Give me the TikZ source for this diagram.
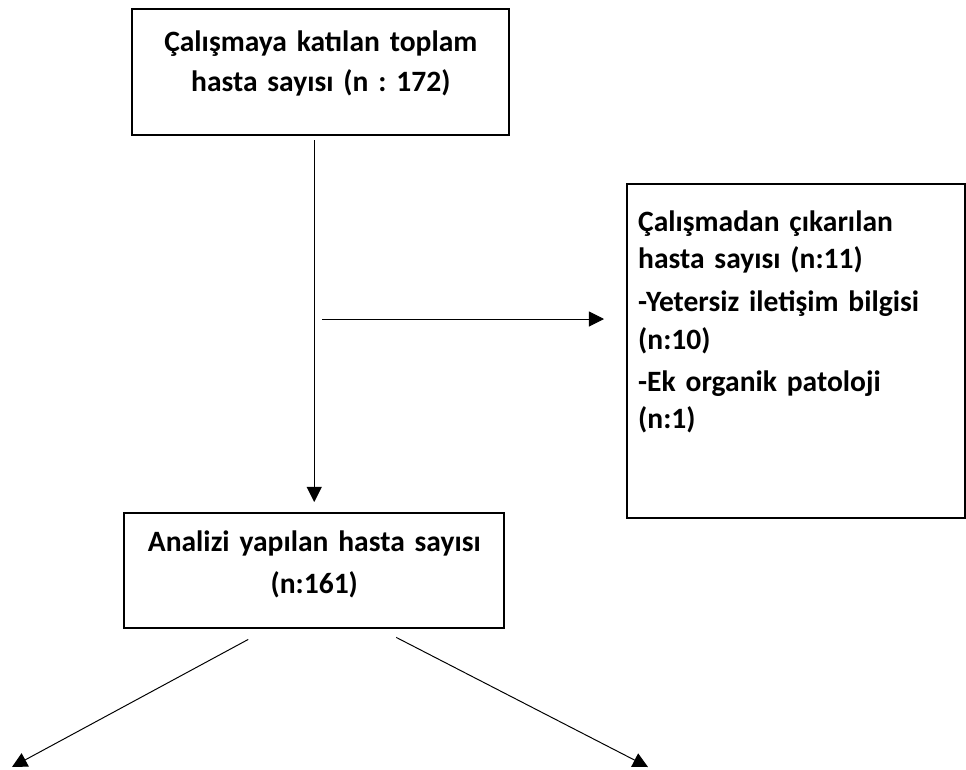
\documentclass[tikz,border=0pt]{standalone}
\usepackage{fontspec}
\setmainfont{Carlito}
\frenchspacing
\usetikzlibrary{arrows.meta}
\tikzset{
  stepbox/.style={
    draw=black,
    line width=1.7pt,
    inner sep=0pt,
    font=\bfseries\fontsize{21}{26.7}\selectfont
  },
  flow/.style={
    -{Triangle[length=10.7pt,width=10.7pt]},
    line width=0.7pt,
    draw=black
  }
}
\begin{document}
\begin{tikzpicture}[x=0.025cm, y=-0.025cm]
  \useasboundingbox (0,0) rectangle (966,769);
  \node[stepbox, anchor=north west, text width=9.425cm, align=center,
        text height=1.05cm, text depth=2.1cm] (total) at (131,8)
        {Çalışmaya katılan toplam\\[0.0625cm]hasta sayısı (n : 172)};
  \node[stepbox, anchor=north west, text width=9.5cm, align=center,
        text height=0.95cm, text depth=1.925cm] (analyzed) at (123,512)
        {Analizi yapılan hasta sayısı\\[0.1125cm](n:161)};
  \node[stepbox, anchor=north west, text width=7.9cm, inner xsep=0.275cm, align=left,
        text height=1.175cm, text depth=7.175cm] (excluded) at (626,183)
        {Çalışmadan çıkarılan\\hasta sayısı (n:11)\\[0.14cm]-Yetersiz iletişim bilgisi\\(n:10)\\[0.11cm]-Ek organik patoloji\\(n:1)};
  \coordinate (split) at (322,319);
  \coordinate (leftend) at (12,767);
  \coordinate (rightend) at (648,767);
  \draw[flow, shorten <=0.1cm, shorten >=0.25cm] (analyzed.north |- total.south) -- (analyzed.north);
  \draw[flow, shorten >=0.55cm] (split) -- (split -| excluded.west);
  \draw[flow] ([xshift=-1.65cm, yshift=-0.25cm]analyzed.south) -- (leftend);
  \draw[flow] ([xshift=2.05cm, yshift=-0.2cm]analyzed.south) -- (rightend);
\end{tikzpicture}
\end{document}
